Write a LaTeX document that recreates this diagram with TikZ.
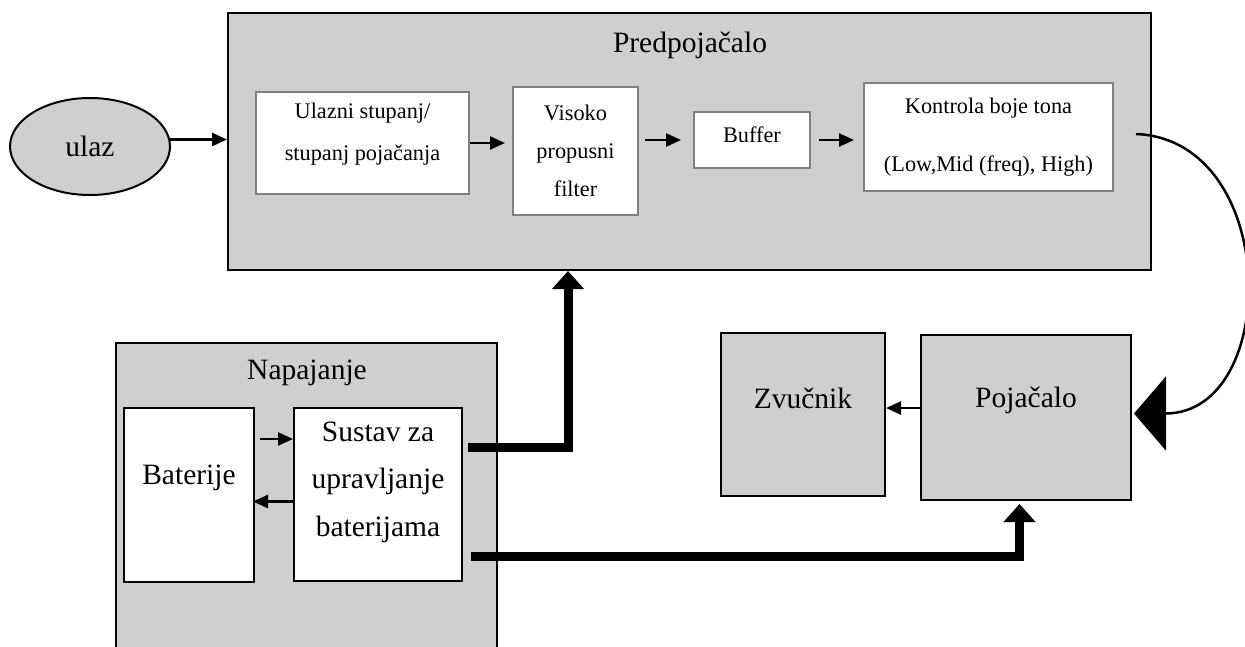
\documentclass[tikz,border=0pt]{standalone}
\usepackage{fontspec}
\setmainfont{Liberation Serif}
\usetikzlibrary{arrows.meta,calc,positioning,shapes.geometric}
\definecolor{boxgray}{RGB}{208,206,208}
\definecolor{edgegray}{RGB}{128,128,128}
\newcommand{\fontbig}{\fontsize{29.5}{47.5}\selectfont}
\newcommand{\fontsmall}{\fontsize{22.3}{38}\selectfont}
\tikzset{%
	group/.style    = {draw, rectangle, fill=boxgray, line width=2pt, inner sep=0pt},
	block/.style    = {draw=edgegray, rectangle, fill=white, line width=2pt, inner sep=0pt},
	unit/.style     = {draw, rectangle, fill=white, line width=2pt, inner sep=0pt},
	inport/.style   = {draw, ellipse, fill=boxgray, line width=2pt, inner sep=0pt},
	bigtext/.style  = {font=\fontbig, align=center, inner sep=0pt},
	smalltext/.style= {font=\fontsmall, align=center, inner sep=0pt},
	arrow/.style    = {line width=2.5pt, -{Triangle[length=15pt,width=13pt]}},
	power/.style    = {line width=9pt, -{Triangle[length=18pt,width=31pt]}},
}
\begin{document}
\begin{tikzpicture}[x=1pt,y=-1pt]
	\useasboundingbox (0,0) rectangle (1245,646);
	% Predpojacalo
	\node[group, minimum width=923, minimum height=257] (pre) at (689.5,141.5) {};
	\node[bigtext] (pretitle) at (690,45) {Predpojačalo};
	\node[block, minimum width=213, minimum height=102] (ulazni) at (362.5,143) {};
	\node[smalltext] (ulaznitxt) at ([yshift=9]ulazni.center) {Ulazni stupanj/\\[4pt]stupanj pojačanja};
	\node[block, smalltext, minimum width=125, minimum height=128] (visoko) at (575.5,151) {Visoko\\propusni\\filter};
	\node[block, minimum width=116, minimum height=56] (buffer) at (752,140) {};
	\node[smalltext] (buffertxt) at ([yshift=5]buffer.center) {Buffer};
	\node[block, smalltext, minimum width=249, minimum height=108] (kontrola) at (988.5,137) {Kontrola boje tona\\[20pt](Low,Mid (freq), High)};
	\node[inport, bigtext, minimum width=160, minimum height=97] (ulaz) at (90,146.5) {ulaz};
	% Napajanje
	\node[group, minimum width=381, minimum height=317] (nap) at (306.5,501.5) {};
	\node[bigtext] (naptitle) at (307,373) {Napajanje};
	\node[unit, minimum width=130, minimum height=174] (bat) at (189,495) {};
	\node[bigtext] (battxt) at ([yshift=17]bat.center) {Baterije};
	\node[unit, minimum width=168, minimum height=173] (sustav) at (378,494.5) {};
	\node[bigtext] (sustavtxt) at ([yshift=12.5]sustav.center) {Sustav za\\upravljanje\\baterijama};
	% Pojacalo i zvucnik
	\node[group, minimum width=164, minimum height=163] (zvucnik) at (803,414.5) {};
	\node[bigtext] (zvucniktxt) at ([yshift=16.5]zvucnik.center) {Zvučnik};
	\node[group, minimum width=210, minimum height=165] (pojacalo) at (1026,417.5) {};
	\node[bigtext] (pojacalotxt) at ([yshift=17.5]pojacalo.center) {Pojačalo};
	% signal
	\draw[arrow] (ulaz.5) -- (ulaz.5 -| pre.west);
	\draw[arrow] (ulazni.east) -- ([xshift=-7]ulazni.east -| visoko.west);
	\draw[arrow] ([xshift=6]visoko.east |- buffer.west) -- ([xshift=-12]buffer.west);
	\draw[arrow] ([xshift=8]buffer.east) -- ([xshift=-9]buffer.east -| kontrola.west);
	\draw[line width=2.5pt, -{Triangle[length=32pt,width=74pt]}] ([xshift=22,yshift=3]kontrola.east) .. controls +(145,6) and +(147,0) .. ([xshift=2,yshift=4]pojacalo.east);
	\draw[arrow] ([yshift=9.5]pojacalo.west) -- ([yshift=9.5]pojacalo.west -| zvucnik.east);
	\draw[arrow] ([xshift=5,yshift=56]bat.east) -- ([yshift=56]bat.east -| sustav.west);
	\draw[arrow] ([yshift=-7]sustav.west) -- ([xshift=-2,yshift=-7]sustav.west -| bat.east);
	% napajanje
	\draw[power] ([xshift=5,yshift=47.5]sustav.east) -| ([xshift=-121.5]pre.south);
	\draw[power] ([xshift=8,yshift=-61.5]sustav.east) -| ([xshift=-6.5,yshift=-3]pojacalo.south);
\end{tikzpicture}
\end{document}
